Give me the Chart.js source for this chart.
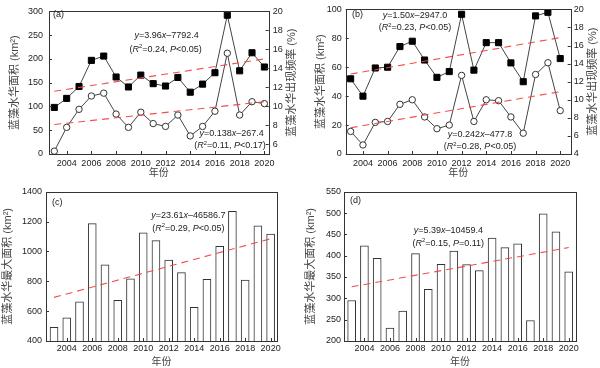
<!DOCTYPE html>
<html>
<head>
<meta charset="utf-8">
<script src="https://cdn.jsdelivr.net/npm/chart.js@4.4.1/dist/chart.umd.min.js"></script>
<style>
  body { margin: 0; background: #fff; width: 600px; height: 368px; position: relative; overflow: hidden; }
  canvas { position: absolute; }
</style>
</head>
<body>
<canvas id="chartA" width="300" height="185" style="left:0;top:0"></canvas>
<canvas id="chartB" width="300" height="185" style="left:300px;top:0"></canvas>
<canvas id="chartC" width="300" height="188" style="left:0;top:180px"></canvas>
<canvas id="chartD" width="300" height="188" style="left:300px;top:180px"></canvas>
<script>
// data
const years = [2003, 2004, 2005, 2006, 2007, 2008, 2009, 2010, 2011, 2012, 2013, 2014, 2015, 2016, 2017, 2018, 2019, 2020];
const yearTicks = [2004, 2006, 2008, 2010, 2012, 2014, 2016, 2018, 2020];

const areaA = [98, 117, 142, 197, 206, 162, 141, 166, 148, 143, 161, 130, 147, 171, 292, 175, 213, 183];
const freqA = [5.3, 7.8, 9.7, 11.1, 11.4, 9.2, 7.8, 9.4, 8.2, 7.9, 9.1, 6.9, 7.9, 9.5, 15.6, 9.1, 10.5, 10.3];
const areaB = [52, 40, 59.5, 60, 74.3, 78, 65, 53, 57, 96.6, 58, 77, 77, 63, 50, 95.5, 98, 66];
const freqB = [6.5, 5.0, 7.5, 7.6, 9.5, 10.0, 8.1, 6.8, 7.2, 12.7, 7.6, 10.0, 9.9, 8.1, 6.3, 12.8, 14.1, 8.8];
const maxAreaC = [492, 556, 663, 1186, 911, 672, 817, 1125, 1072, 942, 858, 625, 813, 1034, 1268, 808, 1172, 1116];
const maxAreaD = [295, 423, 394, 230, 270, 405, 321, 380, 411, 379, 365, 441, 419, 428, 248, 498, 456, 362];

// fitted lines, end points as drawn
const trendYears = [2003, 2020];
const trendAreaA = [132, 200];
const trendFreqA = [8.1, 10.5];
const trendAreaB = [55.3, 80.5];
const trendFreqB = [6.9, 10.9];
const trendC = [692, 1085];
const trendD = [327, 419];

const ticksAreaA = [0, 50, 100, 150, 200, 250, 300];
const ticksFreqA = [6, 8, 10, 12, 14, 16, 18, 20];
const ticksAreaB = [0, 20, 40, 60, 80, 100];
const ticksFreqB = [4, 6, 8, 10, 12, 14, 16, 18, 20];
const ticksC = [400, 600, 800, 1000, 1200, 1400];
const ticksD = [200, 250, 300, 350, 400, 450, 500, 550];

const FONT = '"Liberation Sans", Arial, "Noto Sans CJK SC", sans-serif';
const INK = '#222';
const RED = 'rgba(240,70,70,0.95)';

const pts = (xs, ys) => xs.map((x, i) => ({ x: x, y: ys[i] }));

function eq(a, b) {
  return [['y', 'i'], ['=' + a, ''], ['x', 'i'], ['\u2013' + b, '']];
}
function stat(r, p) {
  return [['(', ''], ['R', 'i'], ['2', 's'], ['=' + r + ', ', ''], ['P', 'i'], [p + ')', '']];
}

function richText(ctx, parts, cx, cy, size) {
  const f = st => (st === 'i' ? 'italic ' : '') + (st === 's' ? size * 0.65 : size) + 'px ' + FONT;
  let w = 0;
  parts.forEach(([t, st]) => { ctx.font = f(st); w += ctx.measureText(t).width; });
  let x = cx - w / 2;
  ctx.textAlign = 'left';
  ctx.textBaseline = 'alphabetic';
  const base = cy + size * 0.36;
  parts.forEach(([t, st]) => {
    ctx.font = f(st);
    ctx.fillText(t, x, st === 's' ? base - size * 0.38 : base);
    x += ctx.measureText(t).width;
  });
}

function decor(d) {
  return {
    id: 'decor',
    afterDraw(chart) {
      const ctx = chart.ctx, a = chart.chartArea;
      ctx.save();
      ctx.strokeStyle = '#333';
      ctx.lineWidth = 1;
      ctx.strokeRect(Math.round(a.left) + 0.5, Math.round(a.top) + 0.5,
        Math.round(a.right - a.left), Math.round(a.bottom - a.top));
      ctx.beginPath();
      const sx = chart.scales.x;
      sx.ticks.forEach(t => {
        const p = Math.round(sx.getPixelForValue(t.value)) + 0.5;
        ctx.moveTo(p, a.bottom); ctx.lineTo(p, a.bottom - 3);
      });
      const sy = chart.scales.y;
      sy.ticks.forEach(t => {
        const p = Math.round(sy.getPixelForValue(t.value)) + 0.5;
        ctx.moveTo(a.left, p); ctx.lineTo(a.left + 3, p);
      });
      const sy1 = chart.scales.y1;
      if (sy1) {
        sy1.ticks.forEach(t => {
          const p = Math.round(sy1.getPixelForValue(t.value)) + 0.5;
          ctx.moveTo(a.right, p); ctx.lineTo(a.right - 3, p);
        });
      }
      ctx.stroke();

      // axis titles
      ctx.fillStyle = '#444';
      ctx.textAlign = 'center';
      ctx.textBaseline = 'middle';
      const midY = (a.top + a.bottom) / 2;
      ctx.font = '11px ' + FONT;
      [d.yTitle, d.y1Title].forEach(t => {
        if (!t) return;
        ctx.save();
        ctx.translate(t.x, midY);
        ctx.rotate(-Math.PI / 2);
        ctx.fillText(t.text, 0, 0);
        ctx.restore();
      });
      ctx.font = '10px ' + FONT;
      ctx.fillText('年份', (a.left + a.right) / 2, d.xTitleY);

      // panel tag and fit equations
      ctx.fillStyle = INK;
      ctx.textAlign = 'left';
      ctx.font = '9px ' + FONT;
      ctx.fillText(d.tag.text, d.tag.x, d.tag.y);
      d.notes.forEach(n => richText(ctx, n.parts, n.x, n.y, 9));
      ctx.restore();
    }
  };
}

function xScale(min, max, height, pad) {
  return {
    type: 'linear', min: min, max: max, offset: false,
    afterBuildTicks: s => { s.ticks = yearTicks.map(v => ({ value: v })); },
    afterFit: s => { s.height = height; },
    grid: { display: false, drawTicks: false }, border: { display: false },
    ticks: { callback: v => String(v), color: INK, font: { size: 9, family: FONT }, padding: pad, maxRotation: 0, autoSkip: false }
  };
}
function yScale(ticks, width, pos, pad) {
  return {
    type: 'linear', position: pos, min: ticks[0], max: ticks[ticks.length - 1],
    afterBuildTicks: s => { s.ticks = ticks.map(v => ({ value: v })); },
    afterFit: s => { s.width = width; },
    grid: { display: false, drawTicks: false }, border: { display: false },
    ticks: { callback: v => String(v), color: INK, font: { size: 9, family: FONT }, padding: pad }
  };
}

function squareLine(data, axis) {
  return {
    type: 'line', data: data, yAxisID: axis, order: 2,
    borderColor: '#444', borderWidth: 1, tension: 0,
    pointStyle: 'rect', pointRadius: 4.3, pointBackgroundColor: '#000', pointBorderColor: '#000', pointBorderWidth: 1
  };
}
function circleLine(data, axis) {
  return {
    type: 'line', data: data, yAxisID: axis, order: 2,
    borderColor: '#444', borderWidth: 1, tension: 0,
    pointStyle: 'circle', pointRadius: 3.2, pointBackgroundColor: '#fff', pointBorderColor: '#333', pointBorderWidth: 1
  };
}
function trendLine(data, axis) {
  return {
    type: 'line', data: data, yAxisID: axis, order: 1,
    borderColor: RED, borderWidth: 1.1, borderDash: [7, 5], pointRadius: 0, fill: false
  };
}

const common = {
  responsive: false, animation: false, devicePixelRatio: 1,
  plugins: { legend: { display: false }, tooltip: { enabled: false } }
};

// (a)
new Chart(document.getElementById('chartA'), {
  type: 'line',
  data: { datasets: [
    trendLine(pts(trendYears, trendAreaA), 'y'),
    trendLine(pts(trendYears, trendFreqA), 'y1'),
    squareLine(pts(years, areaA), 'y'),
    circleLine(pts(years, freqA), 'y1')
  ] },
  options: Object.assign({}, common, {
    layout: { padding: { top: 5, left: 0, right: 0, bottom: 0 } },
    scales: {
      x: xScale(2002.57, 2020.35, 31, 4),
      y: yScale(ticksAreaA, 49, 'left', 6),
      y1: Object.assign(yScale(ticksFreqA, 31.3, 'right', 4), { min: 5, max: 20 })
    }
  }),
  plugins: [decor({
    yTitle: { text: '蓝藻水华面积 (km²)', x: 15 },
    y1Title: { text: '蓝藻水华出现频率 (%)', x: 291.7 },
    xTitleY: 173,
    tag: { text: '(a)', x: 53, y: 15 },
    notes: [
      { parts: eq('3.96', '7792.4'), x: 166.7, y: 35 },
      { parts: stat('0.24', '<0.05'), x: 165.7, y: 48.3 },
      { parts: eq('0.138', '267.4'), x: 231.7, y: 132.7 },
      { parts: stat('0.11', '<0.17'), x: 230, y: 144.7 }
    ]
  })]
});

// (b)
new Chart(document.getElementById('chartB'), {
  type: 'line',
  data: { datasets: [
    trendLine(pts(trendYears, trendAreaB), 'y'),
    trendLine(pts(trendYears, trendFreqB), 'y1'),
    squareLine(pts(years, areaB), 'y'),
    circleLine(pts(years, freqB), 'y1')
  ] },
  options: Object.assign({}, common, {
    layout: { padding: { top: 5, left: 0, right: 0, bottom: 0 } },
    scales: {
      x: xScale(2002.6, 2020.85, 31, 4),
      y: yScale(ticksAreaB, 45.7, 'left', 4),
      y1: yScale(ticksFreqB, 29.3, 'right', 3)
    }
  }),
  plugins: [decor({
    yTitle: { text: '蓝藻水华面积 (km²)', x: 21 },
    y1Title: { text: '蓝藻水华出现频率 (%)', x: 293 },
    xTitleY: 173,
    tag: { text: '(b)', x: 52, y: 15 },
    notes: [
      { parts: eq('1.50', '2947.0'), x: 115, y: 15 },
      { parts: stat('0.23', '<0.05'), x: 115, y: 26.7 },
      { parts: eq('0.242', '477.8'), x: 180, y: 133.3 },
      { parts: stat('0.28', '<0.05'), x: 180, y: 145.7 }
    ]
  })]
});

function barSet(data) {
  return {
    type: 'bar', data: data, yAxisID: 'y', order: 2,
    backgroundColor: '#fff', borderColor: '#333', borderWidth: 1, barThickness: 8
  };
}

// (c)
new Chart(document.getElementById('chartC'), {
  type: 'bar',
  data: { datasets: [
    trendLine(pts(trendYears, trendC), 'y'),
    barSet(pts(years, maxAreaC))
  ] },
  options: Object.assign({}, common, {
    layout: { padding: { top: 11.7, left: 0, right: 23, bottom: 0 } },
    scales: {
      x: xScale(2002.37, 2020.5, 27, 2),
      y: yScale(ticksC, 46, 'left', 4)
    }
  }),
  plugins: [decor({
    yTitle: { text: '蓝藻水华最大面积 (km²)', x: 8 },
    xTitleY: 182.7,
    tag: { text: '(c)', x: 52, y: 22.7 },
    notes: [
      { parts: eq('23.61', '46586.7'), x: 188.3, y: 34.3 },
      { parts: stat('0.29', '<0.05'), x: 188.3, y: 47.3 }
    ]
  })]
});

// (d)
new Chart(document.getElementById('chartD'), {
  type: 'bar',
  data: { datasets: [
    trendLine(pts(trendYears, trendD), 'y'),
    barSet(pts(years, maxAreaD))
  ] },
  options: Object.assign({}, common, {
    layout: { padding: { top: 11.7, left: 0, right: 24, bottom: 0 } },
    scales: {
      x: xScale(2002.4, 2020.57, 27, 2),
      y: yScale(ticksD, 44, 'left', 3)
    }
  }),
  plugins: [decor({
    yTitle: { text: '蓝藻水华最大面积 (km²)', x: 11 },
    xTitleY: 182.7,
    tag: { text: '(d)', x: 50, y: 20.7 },
    notes: [
      { parts: eq('5.39', '10459.4'), x: 148.3, y: 50 },
      { parts: stat('0.15', '=0.11'), x: 148.3, y: 62.3 }
    ]
  })]
});
</script>
</body>
</html>
